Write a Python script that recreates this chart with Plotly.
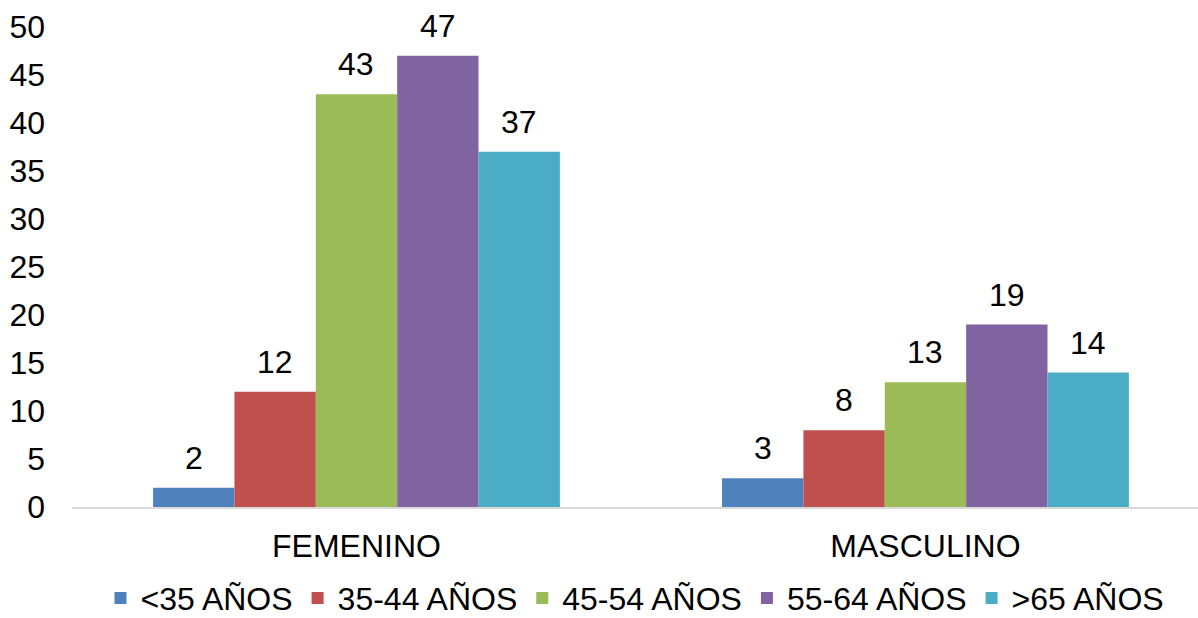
import plotly.graph_objects as go

categories = ["FEMENINO", "MASCULINO"]
series_names = ["<35 AÑOS", "35-44 AÑOS", "45-54 AÑOS", "55-64 AÑOS", ">65 AÑOS"]
values_lt35 = [2, 3]
values_35_44 = [12, 8]
values_45_54 = [43, 13]
values_55_64 = [47, 19]
values_gt65 = [37, 14]
colors = ["#4F81BD", "#C0504D", "#9BBB59", "#8064A2", "#4BACC6"]

all_values = [values_lt35, values_35_44, values_45_54, values_55_64, values_gt65]

FONT = "Liberation Sans, Arial, sans-serif"
FS = 32
BARGAP = 0.285
n = len(series_names)
bar_w = (1 - BARGAP) / n

fig = go.Figure()
for j, (name, vals, col) in enumerate(zip(series_names, all_values, colors)):
    fig.add_trace(go.Bar(
        x=categories, y=vals, name=name,
        marker=dict(color=col, line=dict(width=0)),
    ))
    for i, v in enumerate(vals):
        fig.add_annotation(
            x=i + (j - (n - 1) / 2) * bar_w, y=v, xref="x", yref="y",
            text=str(v), showarrow=False, yanchor="middle", yshift=30,
            font=dict(size=FS, color="#000000", family=FONT),
        )

fig.update_layout(
    width=1198, height=618,
    margin=dict(l=72, r=0, t=27, b=111, autoexpand=False),
    paper_bgcolor="white", plot_bgcolor="white",
    barmode="group", bargap=BARGAP, bargroupgap=0,
    font=dict(family=FONT, size=FS, color="#000000"),
    showlegend=True,
    legend=dict(orientation="h", x=0.5, xanchor="center", y=-0.19, yanchor="middle",
                font=dict(size=FS, family=FONT), itemwidth=30, traceorder="normal"),
    xaxis=dict(range=[-0.5, 1.479], showline=True, linecolor="#D9D9D9", linewidth=2,
               ticks="", showgrid=False, tickfont=dict(size=FS), ticklabelstandoff=10,
               automargin=False),
    yaxis=dict(range=[0, 50], dtick=5, showgrid=False, zeroline=False, showline=False,
               ticks="", tickfont=dict(size=FS), ticklabelstandoff=26, automargin=False),
)

fig.write_html("out.html")
